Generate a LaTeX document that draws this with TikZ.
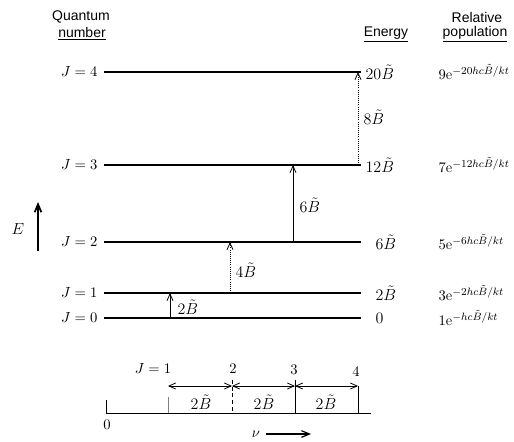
\documentclass[tikz,border=0pt]{standalone}
\usepackage{fontspec}
\newfontfamily\hdr{Liberation Sans}
\usetikzlibrary{arrows.meta}
\begin{document}
\begin{tikzpicture}[x=0.75pt,y=-0.75pt,
  font=\fontsize{10.5}{12}\selectfont,
  level/.style={line width=0.9pt},
  trans/.style={line width=0.6pt,-{Straight Barb[length=5pt,width=4.5pt]}},
  transdot/.style={trans,densely dotted},
  jlab/.style={anchor=east,inner sep=1pt},
  elab/.style={anchor=west,inner sep=1pt,font=\fontsize{11.5}{13}\selectfont},
  plab/.style={anchor=west,inner sep=1pt,font=\fontsize{11}{13}\selectfont},
  head/.style={font=\hdr\fontsize{10.5}{12}\selectfont,inner sep=1pt},
  tlab/.style={anchor=west,inner sep=1pt,font=\fontsize{11.5}{13}\selectfont},
  spec/.style={line width=0.6pt},
  dbl/.style={line width=0.6pt,{Straight Barb[length=5pt,width=4.5pt]}-{Straight Barb[length=5pt,width=4.5pt]}}
]
\useasboundingbox (0,0) rectangle (514,442);

% headers
\node[head] (hq) at (81,17) {Quantum};
\node[head] (hn) at (82,34) {\underline{number}};
\node[head] (he) at (386,34) {\underline{Energy}};
\node[head] (hr) at (477,17) {Relative};
\node[head] (hp) at (475,34) {\underline{population}};

% level end points
\foreach \j/\y in {4/72,3/165,2/242,1/293,0/318}{
  \coordinate (La\j) at (104,\y);
  \coordinate (Lb\j) at (361,\y);
  \draw[level] (La\j) -- (Lb\j);
  \node[jlab] (J\j) at (99,\y) {$J = \j$};
}

% energies
\node[elab] (E4) at (364,72) {$20\tilde{B}$};
\node[elab] (E3) at (364,165) {$12\tilde{B}$};
\node[elab] (E2) at (374,242) {$6\tilde{B}$};
\node[elab] (E1) at (374,293) {$2\tilde{B}$};
\node[elab] (E0) at (374,318) {$0$};

% relative populations
\node[plab] (P4) at (437,72) {$9\mathrm{e}^{-20hc\tilde{B}/kt}$};
\node[plab] (P3) at (437,165) {$7\mathrm{e}^{-12hc\tilde{B}/kt}$};
\node[plab] (P2) at (437,242) {$5\mathrm{e}^{-6hc\tilde{B}/kt}$};
\node[plab] (P1) at (437,293) {$3\mathrm{e}^{-2hc\tilde{B}/kt}$};
\node[plab] (P0) at (437,318) {$1\mathrm{e}^{-hc\tilde{B}/kt}$};

% transitions
\coordinate (t1a) at (170,318); \coordinate (t1b) at (170,293);
\coordinate (t2a) at (230,293); \coordinate (t2b) at (230,242);
\coordinate (t3a) at (293,242); \coordinate (t3b) at (293,165);
\coordinate (t4a) at (358,165); \coordinate (t4b) at (358,72);
\draw[trans] (t1a) -- (t1b);
\draw[transdot] (t2a) -- (t2b);
\draw[trans] (t3a) -- (t3b);
\draw[transdot] (t4a) -- (t4b);
\node[tlab] (T1) at (176,307) {$2\tilde{B}$};
\node[tlab] (T2) at (234,270) {$4\tilde{B}$};
\node[tlab] (T3) at (298,205) {$6\tilde{B}$};
\node[tlab] (T4) at (362,117) {$8\tilde{B}$};

% E axis
\coordinate (Ea) at (38,251); \coordinate (Eb) at (38,202);
\draw[line width=1.3pt,-{Straight Barb[length=6pt,width=5pt]}] (Ea) -- (Eb);
\node[font=\fontsize{11.5}{13}\selectfont] (Elab) at (18,229) {$E$};

% spectrum
\coordinate (s0t) at (106,400); \coordinate (s0b) at (106,413);
\coordinate (send) at (371,413);
\draw[spec] (s0t) -- (s0b) -- (send);
\coordinate (s1t) at (168,397); \coordinate (s1b) at (168,413);
\coordinate (s2t) at (232,380); \coordinate (s2b) at (232,413);
\coordinate (s3t) at (295,380); \coordinate (s3b) at (295,413);
\coordinate (s4t) at (358,386); \coordinate (s4b) at (358,413);
\draw[spec,gray] (s1t) -- (s1b);
\draw[spec,densely dashed] (s2t) -- (s2b);
\draw[spec] (s3t) -- (s3b);
\draw[spec] (s4t) -- (s4b);
\coordinate (a1) at (168,386); \coordinate (a2) at (232,386);
\coordinate (a3) at (295,386); \coordinate (a4) at (358,386);
\draw[dbl] (a1) -- (a2);
\draw[dbl] (a2) -- (a3);
\draw[dbl] (a3) -- (a4);
\node[font=\fontsize{11.5}{13}\selectfont] (S1) at (201,402) {$2\tilde{B}$};
\node[font=\fontsize{11.5}{13}\selectfont] (S2) at (264,402) {$2\tilde{B}$};
\node[font=\fontsize{11.5}{13}\selectfont] (S3) at (326,402) {$2\tilde{B}$};
\node (K1) at (153,369) {$J = 1$};
\node (K2) at (233,369) {$2$};
\node (K3) at (294,370) {$3$};
\node (K4) at (356,372) {$4$};
\node (K0) at (107,425) {$0$};
\node (nu) at (256,434) {$\nu$};
\coordinate (nua) at (266,434); \coordinate (nub) at (311,434);
\draw[line width=0.9pt,-{Straight Barb[length=6pt,width=5pt]}] (nua) -- (nub);
\end{tikzpicture}
\end{document}
